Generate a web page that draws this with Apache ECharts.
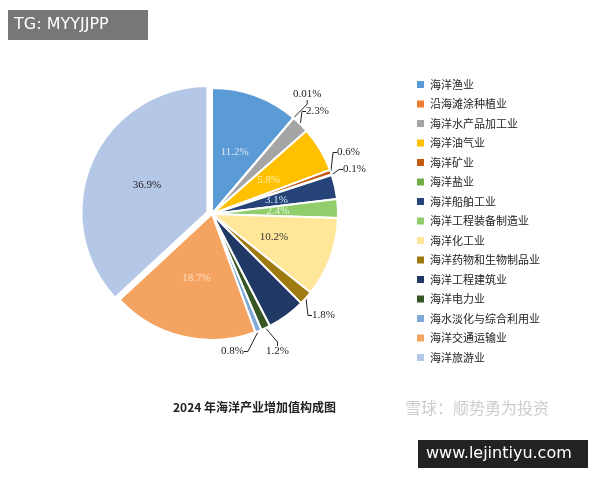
<!DOCTYPE html>
<html><head><meta charset="utf-8">
<script src="https://cdn.jsdelivr.net/npm/echarts@6/dist/echarts.min.js"></script>
<style>body{margin:0;background:#fff}#c{width:600px;height:480px}</style>
</head><body><div id="c"></div>
<script>
const categories=['海洋渔业','沿海滩涂种植业','海洋水产品加工业','海洋油气业','海洋矿业','海洋盐业','海洋船舶工业','海洋工程装备制造业','海洋化工业','海洋药物和生物制品业','海洋工程建筑业','海洋电力业','海水淡化与综合利用业','海洋交通运输业','海洋旅游业'];
const values=[11.2,0.01,2.3,5.8,0.6,0.1,3.1,2.4,10.2,1.8,4.9,1.2,0.8,18.7,36.9];
const labelsShown=['11.2%','0.01%','2.3%','5.8%','0.6%','0.1%','3.1%','2.4%','10.2%','1.8%','','1.2%','0.8%','18.7%','36.9%'];
const colors=['#5b9bd5','#ed7d31','#a5a5a5','#ffc000','#c55a11','#70ad47','#264478','#8fce6a','#ffe699','#9e7a10','#203864','#375623','#7fa9d6','#f4a460','#b4c7e7'];
const inside=[true,false,false,true,false,false,true,true,true,false,false,false,false,true,true];
const insideColor=['#dbe9f7','','','#fff0b0','','','#cfe0f5','#e8f7dc','#333','','','','','#fde0c8','#222'];
const labelPos={1:[293,89],2:[306,106],4:[337,147],5:[343,164],9:[312,310],11:[266,346],12:[221,346]};
const font='"Liberation Serif","Noto Sans CJK SC",serif';
const data=categories.map((n,i)=>({name:n,value:values[i],itemStyle:{color:colors[i]},
 label:inside[i]?{position:'inside',color:insideColor[i],formatter:labelsShown[i]}:{position:'outside',color:'#222',formatter:labelsShown[i],show:labelsShown[i]!=='',align:'left'},
 labelLine:{show:!inside[i]&&labelsShown[i]!=='',length:6,length2:4,lineStyle:{color:'#222'}}}));
data[14].selected=true;
const chart=echarts.init(document.getElementById('c'));
chart.setOption({
 animation:false,
 graphic:[
  {type:'rect',left:8,top:10,shape:{width:140,height:30},style:{fill:'#777'}},
  {type:'text',left:14,top:17,style:{text:'TG: MYYJJPP',fill:'#fff',font:'16px "DejaVu Sans"'}},
  {type:'text',left:173,top:401,style:{text:'2024 年海洋产业增加值构成图',fill:'#222',font:'bold 12px "Noto Sans CJK SC"'}},
  {type:'text',left:405,top:400,style:{text:'雪球：顺势勇为投资',fill:'#ccc',font:'16px "Noto Sans CJK SC"'}},
  {type:'rect',left:418,top:440,shape:{width:170,height:28},style:{fill:'#222'}},
  {type:'text',left:426,top:446,style:{text:'www.lejintiyu.com',fill:'#fff',font:'16px "DejaVu Sans"'}}
 ],
 legend:{orient:'vertical',left:410,top:74,itemWidth:9,itemHeight:9,itemGap:8.5,icon:'rect',selectedMode:false,
  textStyle:{fontSize:11,color:'#222',fontFamily:'"Noto Sans CJK SC"'},data:categories},
 series:[{type:'pie',center:[212,214],radius:[0,126],startAngle:90,clockwise:true,avoidLabelOverlap:false,
  selectedMode:'multiple',selectedOffset:5,
  itemStyle:{borderColor:'#fff',borderWidth:2},
  labelLayout:p=>labelPos[p.dataIndex]?{x:labelPos[p.dataIndex][0],y:labelPos[p.dataIndex][1],align:'left',verticalAlign:'top'}:{},
  label:{fontSize:11,fontFamily:font},data:data}]
});
</script></body></html>
